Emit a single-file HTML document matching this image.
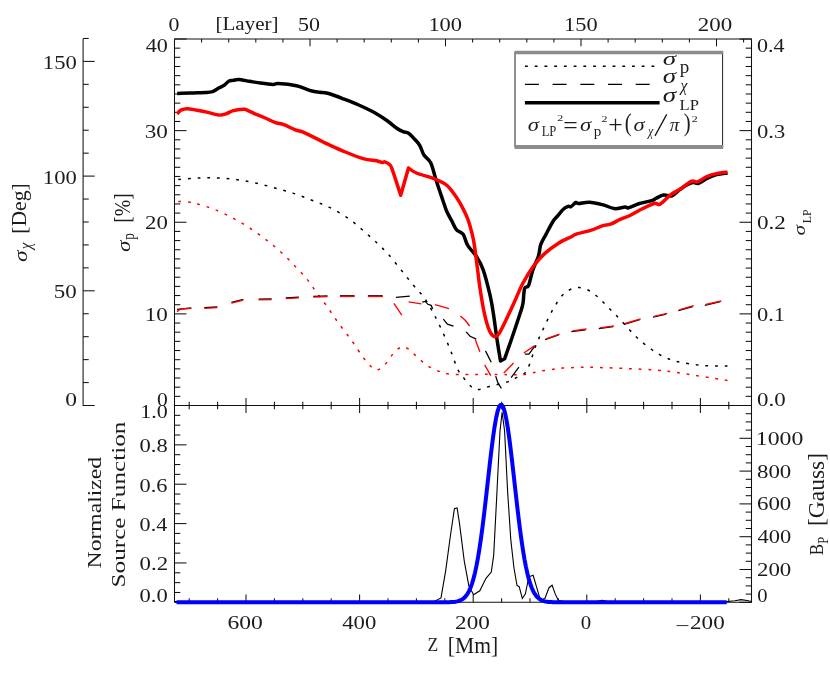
<!DOCTYPE html>
<html><head><meta charset="utf-8"><title>plot</title>
<style>
html,body{margin:0;padding:0;background:#fff;}
body{width:830px;height:677px;overflow:hidden;font-family:"Liberation Serif",serif;}
svg{display:block;will-change:transform;}
text{font-family:"Liberation Serif",serif;fill:#1c1c1c;}
</style></head><body>
<svg width="830" height="677" viewBox="0 0 830 677">
<rect x="0" y="0" width="830" height="677" fill="#ffffff"/>
<line x1="174.50" y1="39.00" x2="174.50" y2="602.30" stroke="#111" stroke-width="1.05" fill="none"/>
<line x1="751.50" y1="39.00" x2="751.50" y2="602.30" stroke="#111" stroke-width="1.05" fill="none"/>
<line x1="174.00" y1="39.00" x2="752.00" y2="39.00" stroke="#111" stroke-width="1.05" fill="none"/>
<line x1="174.00" y1="405.50" x2="752.00" y2="405.50" stroke="#111" stroke-width="1.05" fill="none"/>
<line x1="174.50" y1="602.30" x2="752.00" y2="602.30" stroke="#111" stroke-width="1.05" fill="none"/>
<line x1="83.10" y1="38.70" x2="83.10" y2="406.00" stroke="#111" stroke-width="1.05" fill="none"/>
<line x1="83.10" y1="405.50" x2="94.70" y2="405.50" stroke="#111" stroke-width="1.05" fill="none"/>
<line x1="83.10" y1="382.56" x2="88.70" y2="382.56" stroke="#111" stroke-width="1.05" fill="none"/>
<line x1="83.10" y1="359.62" x2="88.70" y2="359.62" stroke="#111" stroke-width="1.05" fill="none"/>
<line x1="83.10" y1="336.68" x2="88.70" y2="336.68" stroke="#111" stroke-width="1.05" fill="none"/>
<line x1="83.10" y1="313.74" x2="88.70" y2="313.74" stroke="#111" stroke-width="1.05" fill="none"/>
<line x1="83.10" y1="290.80" x2="94.70" y2="290.80" stroke="#111" stroke-width="1.05" fill="none"/>
<line x1="83.10" y1="267.86" x2="88.70" y2="267.86" stroke="#111" stroke-width="1.05" fill="none"/>
<line x1="83.10" y1="244.92" x2="88.70" y2="244.92" stroke="#111" stroke-width="1.05" fill="none"/>
<line x1="83.10" y1="221.98" x2="88.70" y2="221.98" stroke="#111" stroke-width="1.05" fill="none"/>
<line x1="83.10" y1="199.04" x2="88.70" y2="199.04" stroke="#111" stroke-width="1.05" fill="none"/>
<line x1="83.10" y1="176.10" x2="94.70" y2="176.10" stroke="#111" stroke-width="1.05" fill="none"/>
<line x1="83.10" y1="153.16" x2="88.70" y2="153.16" stroke="#111" stroke-width="1.05" fill="none"/>
<line x1="83.10" y1="130.22" x2="88.70" y2="130.22" stroke="#111" stroke-width="1.05" fill="none"/>
<line x1="83.10" y1="107.28" x2="88.70" y2="107.28" stroke="#111" stroke-width="1.05" fill="none"/>
<line x1="83.10" y1="84.34" x2="88.70" y2="84.34" stroke="#111" stroke-width="1.05" fill="none"/>
<line x1="83.10" y1="61.40" x2="94.70" y2="61.40" stroke="#111" stroke-width="1.05" fill="none"/>
<line x1="83.10" y1="38.46" x2="88.70" y2="38.46" stroke="#111" stroke-width="1.05" fill="none"/>
<line x1="174.50" y1="405.50" x2="186.50" y2="405.50" stroke="#111" stroke-width="1.05" fill="none"/>
<line x1="751.50" y1="405.50" x2="739.50" y2="405.50" stroke="#111" stroke-width="1.05" fill="none"/>
<line x1="174.50" y1="396.34" x2="180.30" y2="396.34" stroke="#111" stroke-width="1.05" fill="none"/>
<line x1="751.50" y1="396.34" x2="745.70" y2="396.34" stroke="#111" stroke-width="1.05" fill="none"/>
<line x1="174.50" y1="387.18" x2="180.30" y2="387.18" stroke="#111" stroke-width="1.05" fill="none"/>
<line x1="751.50" y1="387.18" x2="745.70" y2="387.18" stroke="#111" stroke-width="1.05" fill="none"/>
<line x1="174.50" y1="378.01" x2="180.30" y2="378.01" stroke="#111" stroke-width="1.05" fill="none"/>
<line x1="751.50" y1="378.01" x2="745.70" y2="378.01" stroke="#111" stroke-width="1.05" fill="none"/>
<line x1="174.50" y1="368.85" x2="180.30" y2="368.85" stroke="#111" stroke-width="1.05" fill="none"/>
<line x1="751.50" y1="368.85" x2="745.70" y2="368.85" stroke="#111" stroke-width="1.05" fill="none"/>
<line x1="174.50" y1="359.69" x2="180.30" y2="359.69" stroke="#111" stroke-width="1.05" fill="none"/>
<line x1="751.50" y1="359.69" x2="745.70" y2="359.69" stroke="#111" stroke-width="1.05" fill="none"/>
<line x1="174.50" y1="350.52" x2="180.30" y2="350.52" stroke="#111" stroke-width="1.05" fill="none"/>
<line x1="751.50" y1="350.52" x2="745.70" y2="350.52" stroke="#111" stroke-width="1.05" fill="none"/>
<line x1="174.50" y1="341.36" x2="180.30" y2="341.36" stroke="#111" stroke-width="1.05" fill="none"/>
<line x1="751.50" y1="341.36" x2="745.70" y2="341.36" stroke="#111" stroke-width="1.05" fill="none"/>
<line x1="174.50" y1="332.20" x2="180.30" y2="332.20" stroke="#111" stroke-width="1.05" fill="none"/>
<line x1="751.50" y1="332.20" x2="745.70" y2="332.20" stroke="#111" stroke-width="1.05" fill="none"/>
<line x1="174.50" y1="323.04" x2="180.30" y2="323.04" stroke="#111" stroke-width="1.05" fill="none"/>
<line x1="751.50" y1="323.04" x2="745.70" y2="323.04" stroke="#111" stroke-width="1.05" fill="none"/>
<line x1="174.50" y1="313.88" x2="186.50" y2="313.88" stroke="#111" stroke-width="1.05" fill="none"/>
<line x1="751.50" y1="313.88" x2="739.50" y2="313.88" stroke="#111" stroke-width="1.05" fill="none"/>
<line x1="174.50" y1="304.71" x2="180.30" y2="304.71" stroke="#111" stroke-width="1.05" fill="none"/>
<line x1="751.50" y1="304.71" x2="745.70" y2="304.71" stroke="#111" stroke-width="1.05" fill="none"/>
<line x1="174.50" y1="295.55" x2="180.30" y2="295.55" stroke="#111" stroke-width="1.05" fill="none"/>
<line x1="751.50" y1="295.55" x2="745.70" y2="295.55" stroke="#111" stroke-width="1.05" fill="none"/>
<line x1="174.50" y1="286.39" x2="180.30" y2="286.39" stroke="#111" stroke-width="1.05" fill="none"/>
<line x1="751.50" y1="286.39" x2="745.70" y2="286.39" stroke="#111" stroke-width="1.05" fill="none"/>
<line x1="174.50" y1="277.23" x2="180.30" y2="277.23" stroke="#111" stroke-width="1.05" fill="none"/>
<line x1="751.50" y1="277.23" x2="745.70" y2="277.23" stroke="#111" stroke-width="1.05" fill="none"/>
<line x1="174.50" y1="268.06" x2="180.30" y2="268.06" stroke="#111" stroke-width="1.05" fill="none"/>
<line x1="751.50" y1="268.06" x2="745.70" y2="268.06" stroke="#111" stroke-width="1.05" fill="none"/>
<line x1="174.50" y1="258.90" x2="180.30" y2="258.90" stroke="#111" stroke-width="1.05" fill="none"/>
<line x1="751.50" y1="258.90" x2="745.70" y2="258.90" stroke="#111" stroke-width="1.05" fill="none"/>
<line x1="174.50" y1="249.74" x2="180.30" y2="249.74" stroke="#111" stroke-width="1.05" fill="none"/>
<line x1="751.50" y1="249.74" x2="745.70" y2="249.74" stroke="#111" stroke-width="1.05" fill="none"/>
<line x1="174.50" y1="240.57" x2="180.30" y2="240.57" stroke="#111" stroke-width="1.05" fill="none"/>
<line x1="751.50" y1="240.57" x2="745.70" y2="240.57" stroke="#111" stroke-width="1.05" fill="none"/>
<line x1="174.50" y1="231.41" x2="180.30" y2="231.41" stroke="#111" stroke-width="1.05" fill="none"/>
<line x1="751.50" y1="231.41" x2="745.70" y2="231.41" stroke="#111" stroke-width="1.05" fill="none"/>
<line x1="174.50" y1="222.25" x2="186.50" y2="222.25" stroke="#111" stroke-width="1.05" fill="none"/>
<line x1="751.50" y1="222.25" x2="739.50" y2="222.25" stroke="#111" stroke-width="1.05" fill="none"/>
<line x1="174.50" y1="213.09" x2="180.30" y2="213.09" stroke="#111" stroke-width="1.05" fill="none"/>
<line x1="751.50" y1="213.09" x2="745.70" y2="213.09" stroke="#111" stroke-width="1.05" fill="none"/>
<line x1="174.50" y1="203.93" x2="180.30" y2="203.93" stroke="#111" stroke-width="1.05" fill="none"/>
<line x1="751.50" y1="203.93" x2="745.70" y2="203.93" stroke="#111" stroke-width="1.05" fill="none"/>
<line x1="174.50" y1="194.76" x2="180.30" y2="194.76" stroke="#111" stroke-width="1.05" fill="none"/>
<line x1="751.50" y1="194.76" x2="745.70" y2="194.76" stroke="#111" stroke-width="1.05" fill="none"/>
<line x1="174.50" y1="185.60" x2="180.30" y2="185.60" stroke="#111" stroke-width="1.05" fill="none"/>
<line x1="751.50" y1="185.60" x2="745.70" y2="185.60" stroke="#111" stroke-width="1.05" fill="none"/>
<line x1="174.50" y1="176.44" x2="180.30" y2="176.44" stroke="#111" stroke-width="1.05" fill="none"/>
<line x1="751.50" y1="176.44" x2="745.70" y2="176.44" stroke="#111" stroke-width="1.05" fill="none"/>
<line x1="174.50" y1="167.28" x2="180.30" y2="167.28" stroke="#111" stroke-width="1.05" fill="none"/>
<line x1="751.50" y1="167.28" x2="745.70" y2="167.28" stroke="#111" stroke-width="1.05" fill="none"/>
<line x1="174.50" y1="158.11" x2="180.30" y2="158.11" stroke="#111" stroke-width="1.05" fill="none"/>
<line x1="751.50" y1="158.11" x2="745.70" y2="158.11" stroke="#111" stroke-width="1.05" fill="none"/>
<line x1="174.50" y1="148.95" x2="180.30" y2="148.95" stroke="#111" stroke-width="1.05" fill="none"/>
<line x1="751.50" y1="148.95" x2="745.70" y2="148.95" stroke="#111" stroke-width="1.05" fill="none"/>
<line x1="174.50" y1="139.79" x2="180.30" y2="139.79" stroke="#111" stroke-width="1.05" fill="none"/>
<line x1="751.50" y1="139.79" x2="745.70" y2="139.79" stroke="#111" stroke-width="1.05" fill="none"/>
<line x1="174.50" y1="130.62" x2="186.50" y2="130.62" stroke="#111" stroke-width="1.05" fill="none"/>
<line x1="751.50" y1="130.62" x2="739.50" y2="130.62" stroke="#111" stroke-width="1.05" fill="none"/>
<line x1="174.50" y1="121.46" x2="180.30" y2="121.46" stroke="#111" stroke-width="1.05" fill="none"/>
<line x1="751.50" y1="121.46" x2="745.70" y2="121.46" stroke="#111" stroke-width="1.05" fill="none"/>
<line x1="174.50" y1="112.30" x2="180.30" y2="112.30" stroke="#111" stroke-width="1.05" fill="none"/>
<line x1="751.50" y1="112.30" x2="745.70" y2="112.30" stroke="#111" stroke-width="1.05" fill="none"/>
<line x1="174.50" y1="103.14" x2="180.30" y2="103.14" stroke="#111" stroke-width="1.05" fill="none"/>
<line x1="751.50" y1="103.14" x2="745.70" y2="103.14" stroke="#111" stroke-width="1.05" fill="none"/>
<line x1="174.50" y1="93.98" x2="180.30" y2="93.98" stroke="#111" stroke-width="1.05" fill="none"/>
<line x1="751.50" y1="93.98" x2="745.70" y2="93.98" stroke="#111" stroke-width="1.05" fill="none"/>
<line x1="174.50" y1="84.81" x2="180.30" y2="84.81" stroke="#111" stroke-width="1.05" fill="none"/>
<line x1="751.50" y1="84.81" x2="745.70" y2="84.81" stroke="#111" stroke-width="1.05" fill="none"/>
<line x1="174.50" y1="75.65" x2="180.30" y2="75.65" stroke="#111" stroke-width="1.05" fill="none"/>
<line x1="751.50" y1="75.65" x2="745.70" y2="75.65" stroke="#111" stroke-width="1.05" fill="none"/>
<line x1="174.50" y1="66.49" x2="180.30" y2="66.49" stroke="#111" stroke-width="1.05" fill="none"/>
<line x1="751.50" y1="66.49" x2="745.70" y2="66.49" stroke="#111" stroke-width="1.05" fill="none"/>
<line x1="174.50" y1="57.32" x2="180.30" y2="57.32" stroke="#111" stroke-width="1.05" fill="none"/>
<line x1="751.50" y1="57.32" x2="745.70" y2="57.32" stroke="#111" stroke-width="1.05" fill="none"/>
<line x1="174.50" y1="48.16" x2="180.30" y2="48.16" stroke="#111" stroke-width="1.05" fill="none"/>
<line x1="751.50" y1="48.16" x2="745.70" y2="48.16" stroke="#111" stroke-width="1.05" fill="none"/>
<line x1="174.50" y1="39.00" x2="186.50" y2="39.00" stroke="#111" stroke-width="1.05" fill="none"/>
<line x1="751.50" y1="39.00" x2="739.50" y2="39.00" stroke="#111" stroke-width="1.05" fill="none"/>
<line x1="174.50" y1="39.00" x2="174.50" y2="46.30" stroke="#111" stroke-width="1.05" fill="none"/>
<line x1="201.60" y1="39.00" x2="201.60" y2="42.60" stroke="#111" stroke-width="1.05" fill="none"/>
<line x1="228.70" y1="39.00" x2="228.70" y2="42.60" stroke="#111" stroke-width="1.05" fill="none"/>
<line x1="255.80" y1="39.00" x2="255.80" y2="42.60" stroke="#111" stroke-width="1.05" fill="none"/>
<line x1="282.90" y1="39.00" x2="282.90" y2="42.60" stroke="#111" stroke-width="1.05" fill="none"/>
<line x1="310.00" y1="39.00" x2="310.00" y2="46.30" stroke="#111" stroke-width="1.05" fill="none"/>
<line x1="337.10" y1="39.00" x2="337.10" y2="42.60" stroke="#111" stroke-width="1.05" fill="none"/>
<line x1="364.20" y1="39.00" x2="364.20" y2="42.60" stroke="#111" stroke-width="1.05" fill="none"/>
<line x1="391.30" y1="39.00" x2="391.30" y2="42.60" stroke="#111" stroke-width="1.05" fill="none"/>
<line x1="418.40" y1="39.00" x2="418.40" y2="42.60" stroke="#111" stroke-width="1.05" fill="none"/>
<line x1="445.50" y1="39.00" x2="445.50" y2="46.30" stroke="#111" stroke-width="1.05" fill="none"/>
<line x1="472.60" y1="39.00" x2="472.60" y2="42.60" stroke="#111" stroke-width="1.05" fill="none"/>
<line x1="499.70" y1="39.00" x2="499.70" y2="42.60" stroke="#111" stroke-width="1.05" fill="none"/>
<line x1="526.80" y1="39.00" x2="526.80" y2="42.60" stroke="#111" stroke-width="1.05" fill="none"/>
<line x1="553.90" y1="39.00" x2="553.90" y2="42.60" stroke="#111" stroke-width="1.05" fill="none"/>
<line x1="581.00" y1="39.00" x2="581.00" y2="46.30" stroke="#111" stroke-width="1.05" fill="none"/>
<line x1="608.10" y1="39.00" x2="608.10" y2="42.60" stroke="#111" stroke-width="1.05" fill="none"/>
<line x1="635.20" y1="39.00" x2="635.20" y2="42.60" stroke="#111" stroke-width="1.05" fill="none"/>
<line x1="662.30" y1="39.00" x2="662.30" y2="42.60" stroke="#111" stroke-width="1.05" fill="none"/>
<line x1="689.40" y1="39.00" x2="689.40" y2="42.60" stroke="#111" stroke-width="1.05" fill="none"/>
<line x1="716.50" y1="39.00" x2="716.50" y2="46.30" stroke="#111" stroke-width="1.05" fill="none"/>
<line x1="743.60" y1="39.00" x2="743.60" y2="42.60" stroke="#111" stroke-width="1.05" fill="none"/>
<line x1="189.20" y1="401.70" x2="189.20" y2="409.20" stroke="#111" stroke-width="1.05" fill="none"/>
<line x1="189.20" y1="602.30" x2="189.20" y2="598.30" stroke="#111" stroke-width="1.05" fill="none"/>
<line x1="217.60" y1="401.70" x2="217.60" y2="409.20" stroke="#111" stroke-width="1.05" fill="none"/>
<line x1="217.60" y1="602.30" x2="217.60" y2="598.30" stroke="#111" stroke-width="1.05" fill="none"/>
<line x1="246.00" y1="397.90" x2="246.00" y2="413.00" stroke="#111" stroke-width="1.05" fill="none"/>
<line x1="246.00" y1="602.30" x2="246.00" y2="594.50" stroke="#111" stroke-width="1.05" fill="none"/>
<line x1="274.40" y1="401.70" x2="274.40" y2="409.20" stroke="#111" stroke-width="1.05" fill="none"/>
<line x1="274.40" y1="602.30" x2="274.40" y2="598.30" stroke="#111" stroke-width="1.05" fill="none"/>
<line x1="302.80" y1="401.70" x2="302.80" y2="409.20" stroke="#111" stroke-width="1.05" fill="none"/>
<line x1="302.80" y1="602.30" x2="302.80" y2="598.30" stroke="#111" stroke-width="1.05" fill="none"/>
<line x1="331.20" y1="401.70" x2="331.20" y2="409.20" stroke="#111" stroke-width="1.05" fill="none"/>
<line x1="331.20" y1="602.30" x2="331.20" y2="598.30" stroke="#111" stroke-width="1.05" fill="none"/>
<line x1="359.60" y1="397.90" x2="359.60" y2="413.00" stroke="#111" stroke-width="1.05" fill="none"/>
<line x1="359.60" y1="602.30" x2="359.60" y2="594.50" stroke="#111" stroke-width="1.05" fill="none"/>
<line x1="388.00" y1="401.70" x2="388.00" y2="409.20" stroke="#111" stroke-width="1.05" fill="none"/>
<line x1="388.00" y1="602.30" x2="388.00" y2="598.30" stroke="#111" stroke-width="1.05" fill="none"/>
<line x1="416.40" y1="401.70" x2="416.40" y2="409.20" stroke="#111" stroke-width="1.05" fill="none"/>
<line x1="416.40" y1="602.30" x2="416.40" y2="598.30" stroke="#111" stroke-width="1.05" fill="none"/>
<line x1="444.80" y1="401.70" x2="444.80" y2="409.20" stroke="#111" stroke-width="1.05" fill="none"/>
<line x1="444.80" y1="602.30" x2="444.80" y2="598.30" stroke="#111" stroke-width="1.05" fill="none"/>
<line x1="473.20" y1="397.90" x2="473.20" y2="413.00" stroke="#111" stroke-width="1.05" fill="none"/>
<line x1="473.20" y1="602.30" x2="473.20" y2="594.50" stroke="#111" stroke-width="1.05" fill="none"/>
<line x1="501.60" y1="401.70" x2="501.60" y2="409.20" stroke="#111" stroke-width="1.05" fill="none"/>
<line x1="501.60" y1="602.30" x2="501.60" y2="598.30" stroke="#111" stroke-width="1.05" fill="none"/>
<line x1="530.00" y1="401.70" x2="530.00" y2="409.20" stroke="#111" stroke-width="1.05" fill="none"/>
<line x1="530.00" y1="602.30" x2="530.00" y2="598.30" stroke="#111" stroke-width="1.05" fill="none"/>
<line x1="558.40" y1="401.70" x2="558.40" y2="409.20" stroke="#111" stroke-width="1.05" fill="none"/>
<line x1="558.40" y1="602.30" x2="558.40" y2="598.30" stroke="#111" stroke-width="1.05" fill="none"/>
<line x1="586.80" y1="397.90" x2="586.80" y2="413.00" stroke="#111" stroke-width="1.05" fill="none"/>
<line x1="586.80" y1="602.30" x2="586.80" y2="594.50" stroke="#111" stroke-width="1.05" fill="none"/>
<line x1="615.20" y1="401.70" x2="615.20" y2="409.20" stroke="#111" stroke-width="1.05" fill="none"/>
<line x1="615.20" y1="602.30" x2="615.20" y2="598.30" stroke="#111" stroke-width="1.05" fill="none"/>
<line x1="643.60" y1="401.70" x2="643.60" y2="409.20" stroke="#111" stroke-width="1.05" fill="none"/>
<line x1="643.60" y1="602.30" x2="643.60" y2="598.30" stroke="#111" stroke-width="1.05" fill="none"/>
<line x1="672.00" y1="401.70" x2="672.00" y2="409.20" stroke="#111" stroke-width="1.05" fill="none"/>
<line x1="672.00" y1="602.30" x2="672.00" y2="598.30" stroke="#111" stroke-width="1.05" fill="none"/>
<line x1="700.40" y1="397.90" x2="700.40" y2="413.00" stroke="#111" stroke-width="1.05" fill="none"/>
<line x1="700.40" y1="602.30" x2="700.40" y2="594.50" stroke="#111" stroke-width="1.05" fill="none"/>
<line x1="728.80" y1="401.70" x2="728.80" y2="409.20" stroke="#111" stroke-width="1.05" fill="none"/>
<line x1="728.80" y1="602.30" x2="728.80" y2="598.30" stroke="#111" stroke-width="1.05" fill="none"/>
<line x1="174.50" y1="602.30" x2="186.50" y2="602.30" stroke="#111" stroke-width="1.05" fill="none"/>
<line x1="174.50" y1="592.46" x2="180.30" y2="592.46" stroke="#111" stroke-width="1.05" fill="none"/>
<line x1="174.50" y1="582.62" x2="180.30" y2="582.62" stroke="#111" stroke-width="1.05" fill="none"/>
<line x1="174.50" y1="572.78" x2="180.30" y2="572.78" stroke="#111" stroke-width="1.05" fill="none"/>
<line x1="174.50" y1="562.94" x2="186.50" y2="562.94" stroke="#111" stroke-width="1.05" fill="none"/>
<line x1="174.50" y1="553.10" x2="180.30" y2="553.10" stroke="#111" stroke-width="1.05" fill="none"/>
<line x1="174.50" y1="543.26" x2="180.30" y2="543.26" stroke="#111" stroke-width="1.05" fill="none"/>
<line x1="174.50" y1="533.42" x2="180.30" y2="533.42" stroke="#111" stroke-width="1.05" fill="none"/>
<line x1="174.50" y1="523.58" x2="186.50" y2="523.58" stroke="#111" stroke-width="1.05" fill="none"/>
<line x1="174.50" y1="513.74" x2="180.30" y2="513.74" stroke="#111" stroke-width="1.05" fill="none"/>
<line x1="174.50" y1="503.90" x2="180.30" y2="503.90" stroke="#111" stroke-width="1.05" fill="none"/>
<line x1="174.50" y1="494.06" x2="180.30" y2="494.06" stroke="#111" stroke-width="1.05" fill="none"/>
<line x1="174.50" y1="484.22" x2="186.50" y2="484.22" stroke="#111" stroke-width="1.05" fill="none"/>
<line x1="174.50" y1="474.38" x2="180.30" y2="474.38" stroke="#111" stroke-width="1.05" fill="none"/>
<line x1="174.50" y1="464.54" x2="180.30" y2="464.54" stroke="#111" stroke-width="1.05" fill="none"/>
<line x1="174.50" y1="454.70" x2="180.30" y2="454.70" stroke="#111" stroke-width="1.05" fill="none"/>
<line x1="174.50" y1="444.86" x2="186.50" y2="444.86" stroke="#111" stroke-width="1.05" fill="none"/>
<line x1="174.50" y1="435.02" x2="180.30" y2="435.02" stroke="#111" stroke-width="1.05" fill="none"/>
<line x1="174.50" y1="425.18" x2="180.30" y2="425.18" stroke="#111" stroke-width="1.05" fill="none"/>
<line x1="174.50" y1="415.34" x2="180.30" y2="415.34" stroke="#111" stroke-width="1.05" fill="none"/>
<line x1="751.50" y1="602.30" x2="739.50" y2="602.30" stroke="#111" stroke-width="1.05" fill="none"/>
<line x1="751.50" y1="594.10" x2="745.70" y2="594.10" stroke="#111" stroke-width="1.05" fill="none"/>
<line x1="751.50" y1="585.90" x2="745.70" y2="585.90" stroke="#111" stroke-width="1.05" fill="none"/>
<line x1="751.50" y1="577.70" x2="745.70" y2="577.70" stroke="#111" stroke-width="1.05" fill="none"/>
<line x1="751.50" y1="569.50" x2="739.50" y2="569.50" stroke="#111" stroke-width="1.05" fill="none"/>
<line x1="751.50" y1="561.30" x2="745.70" y2="561.30" stroke="#111" stroke-width="1.05" fill="none"/>
<line x1="751.50" y1="553.10" x2="745.70" y2="553.10" stroke="#111" stroke-width="1.05" fill="none"/>
<line x1="751.50" y1="544.90" x2="745.70" y2="544.90" stroke="#111" stroke-width="1.05" fill="none"/>
<line x1="751.50" y1="536.70" x2="739.50" y2="536.70" stroke="#111" stroke-width="1.05" fill="none"/>
<line x1="751.50" y1="528.50" x2="745.70" y2="528.50" stroke="#111" stroke-width="1.05" fill="none"/>
<line x1="751.50" y1="520.30" x2="745.70" y2="520.30" stroke="#111" stroke-width="1.05" fill="none"/>
<line x1="751.50" y1="512.10" x2="745.70" y2="512.10" stroke="#111" stroke-width="1.05" fill="none"/>
<line x1="751.50" y1="503.90" x2="739.50" y2="503.90" stroke="#111" stroke-width="1.05" fill="none"/>
<line x1="751.50" y1="495.70" x2="745.70" y2="495.70" stroke="#111" stroke-width="1.05" fill="none"/>
<line x1="751.50" y1="487.50" x2="745.70" y2="487.50" stroke="#111" stroke-width="1.05" fill="none"/>
<line x1="751.50" y1="479.30" x2="745.70" y2="479.30" stroke="#111" stroke-width="1.05" fill="none"/>
<line x1="751.50" y1="471.10" x2="739.50" y2="471.10" stroke="#111" stroke-width="1.05" fill="none"/>
<line x1="751.50" y1="462.90" x2="745.70" y2="462.90" stroke="#111" stroke-width="1.05" fill="none"/>
<line x1="751.50" y1="454.70" x2="745.70" y2="454.70" stroke="#111" stroke-width="1.05" fill="none"/>
<line x1="751.50" y1="446.50" x2="745.70" y2="446.50" stroke="#111" stroke-width="1.05" fill="none"/>
<line x1="751.50" y1="438.30" x2="739.50" y2="438.30" stroke="#111" stroke-width="1.05" fill="none"/>
<line x1="751.50" y1="430.10" x2="745.70" y2="430.10" stroke="#111" stroke-width="1.05" fill="none"/>
<line x1="751.50" y1="421.90" x2="745.70" y2="421.90" stroke="#111" stroke-width="1.05" fill="none"/>
<line x1="751.50" y1="413.70" x2="745.70" y2="413.70" stroke="#111" stroke-width="1.05" fill="none"/>
<path d="M178.3,179.4C181.7,179.2 191.9,178.2 198.4,178.0C204.9,177.8 211.0,177.7 217.3,178.0C223.6,178.3 229.9,178.8 236.2,179.6C242.5,180.4 248.8,181.6 255.1,182.9C261.4,184.2 267.7,186.0 274.0,187.7C280.3,189.4 286.6,191.0 292.9,193.1C299.2,195.2 305.7,197.8 311.8,200.2C317.9,202.6 323.6,204.5 329.5,207.4C335.4,210.3 341.8,214.0 347.2,217.7C352.6,221.4 357.1,225.3 362.0,229.5C366.9,233.7 372.4,238.6 376.8,242.8C381.2,247.0 384.4,249.9 388.6,254.6C392.8,259.3 397.6,265.6 401.8,270.8C406.0,276.0 410.0,281.2 413.7,285.6C417.4,290.0 420.8,293.0 424.0,297.4C427.2,301.8 429.9,306.8 432.8,312.2C435.8,317.6 438.7,323.5 441.7,329.9C444.7,336.3 447.9,343.9 450.6,350.5C453.3,357.1 455.6,365.0 457.9,369.7C460.2,374.4 461.9,375.8 464.3,378.7C466.7,381.6 469.6,385.5 472.0,387.3C474.4,389.1 475.9,389.6 478.8,389.5C481.7,389.4 484.8,387.6 489.4,386.4C494.0,385.2 502.2,383.6 506.7,382.1C511.2,380.7 513.4,379.2 516.4,377.7C519.4,376.2 522.8,375.3 525.0,372.9C527.2,370.5 528.1,367.8 529.9,363.3C531.7,358.8 533.5,351.7 535.7,345.9C538.0,340.1 540.5,334.7 543.4,328.6C546.3,322.5 549.8,314.9 553.0,309.3C556.2,303.8 559.4,298.6 562.4,295.3C565.4,292.0 568.0,290.6 570.8,289.3C573.6,288.0 576.3,287.4 579.3,287.6C582.3,287.8 585.9,289.0 588.9,290.5C591.9,292.0 594.7,294.3 597.3,296.5C599.9,298.7 602.2,301.3 604.6,303.7C607.0,306.1 609.4,308.6 611.8,311.0C614.2,313.4 616.0,315.0 619.0,318.2C622.0,321.4 626.5,326.6 629.9,330.2C633.3,333.8 635.9,336.7 639.5,339.9C643.1,343.1 648.0,346.9 651.6,349.5C655.2,352.1 658.0,353.8 661.2,355.5C664.4,357.2 667.6,358.5 670.8,359.6C674.0,360.7 676.5,361.5 680.5,362.3C684.5,363.1 690.1,364.1 694.9,364.7C699.7,365.3 704.0,365.7 709.4,365.9C714.8,366.1 724.5,365.9 727.5,365.9" fill="none" stroke="#000" stroke-width="1.5" stroke-dasharray="2.8 6.93" pathLength="732.55"/>
<path d="M178.3,201.4C180.1,201.5 185.6,201.6 188.9,202.1C192.2,202.6 194.1,202.9 198.4,204.2C202.7,205.4 209.0,207.2 214.9,209.6C220.8,212.0 227.9,215.4 233.8,218.6C239.7,221.8 244.9,224.9 250.4,228.5C255.9,232.1 261.8,236.5 266.9,240.4C272.0,244.3 276.4,247.9 281.1,252.2C285.8,256.5 291.0,261.9 295.3,266.4C299.6,270.9 303.6,275.1 307.1,279.4C310.6,283.7 313.2,288.0 316.5,292.4C319.8,296.8 323.0,300.7 326.6,305.8C330.2,310.9 334.2,317.2 338.4,323.0C342.6,328.8 347.5,334.9 351.7,340.7C355.9,346.5 360.1,353.4 363.5,357.9C366.9,362.4 369.9,365.7 372.3,367.7C374.8,369.7 376.0,370.3 378.2,369.7C380.4,369.1 382.9,366.8 385.6,363.8C388.3,360.9 391.8,354.8 394.5,352.0C397.2,349.2 399.6,347.6 401.8,347.0C404.0,346.4 405.2,346.9 407.7,348.5C410.2,350.1 413.4,353.7 416.6,356.5C419.8,359.3 423.2,362.9 426.9,365.3C430.6,367.8 434.8,369.7 438.7,371.2C442.6,372.7 445.7,373.7 450.6,374.2C455.5,374.7 460.4,374.4 468.2,374.4C475.9,374.4 489.1,374.3 497.1,374.4C505.1,374.5 511.2,374.9 516.4,374.8C521.5,374.7 524.1,374.5 528.0,373.9C531.9,373.3 535.0,372.1 539.5,371.3C544.0,370.5 551.2,369.5 555.0,369.0C558.8,368.5 557.5,368.4 562.4,368.1C567.2,367.8 576.5,367.4 584.1,367.3C591.7,367.2 600.2,367.6 608.2,367.8C616.2,368.1 624.3,368.4 632.3,368.8C640.3,369.2 649.2,369.4 656.4,370.0C663.6,370.6 669.3,371.5 675.7,372.4C682.1,373.3 688.5,374.3 694.9,375.3C701.3,376.3 708.8,377.5 714.2,378.4C719.6,379.2 725.3,380.1 727.5,380.4" fill="none" stroke="#ff0000" stroke-width="1.5" stroke-dasharray="2.8 6.93" pathLength="644.98"/>
<path d="M177.1,309.3L191.3,308.0" fill="none" stroke="#000" stroke-width="1.3"/>
<path d="M204.3,307.7L217.3,307.0" fill="none" stroke="#000" stroke-width="1.3"/>
<path d="M231.5,302.5L243.3,299.3" fill="none" stroke="#000" stroke-width="1.3"/>
<path d="M258.6,299.2L271.6,299.0" fill="none" stroke="#000" stroke-width="1.3"/>
<path d="M285.8,298.0L298.8,297.1" fill="none" stroke="#000" stroke-width="1.3"/>
<path d="M313.3,296.4L327.5,295.9" fill="none" stroke="#000" stroke-width="1.3"/>
<path d="M339.9,295.8L354.6,295.8" fill="none" stroke="#000" stroke-width="1.3"/>
<path d="M367.9,295.8L382.7,295.8" fill="none" stroke="#000" stroke-width="1.3"/>
<path d="M395.9,297.4L409.8,296.2" fill="none" stroke="#000" stroke-width="1.3"/>
<path d="M422.2,302.2L425.4,301.4L427.9,304.3L431.1,305.4L432.7,308.7" fill="none" stroke="#000" stroke-width="1.3"/>
<path d="M443.3,319.2L447.4,324.1L453.5,326.1" fill="none" stroke="#000" stroke-width="1.3"/>
<path d="M466.1,331.9L470.1,336.3L476.3,339.1" fill="none" stroke="#000" stroke-width="1.3"/>
<path d="M485.5,350.9L491.2,362.3" fill="none" stroke="#000" stroke-width="1.3"/>
<path d="M495.7,376.1L498.1,383.4L501.4,388.3" fill="none" stroke="#000" stroke-width="1.3"/>
<path d="M511.1,377.7L518.9,367.2" fill="none" stroke="#000" stroke-width="1.3"/>
<path d="M524.9,354.2L529.0,354.2L534.7,346.1" fill="none" stroke="#000" stroke-width="1.3"/>
<path d="M545.1,339.7L558.6,334.9" fill="none" stroke="#000" stroke-width="1.3"/>
<path d="M571.4,331.7L585.5,329.8" fill="none" stroke="#000" stroke-width="1.3"/>
<path d="M598.8,328.6L613.2,326.7" fill="none" stroke="#000" stroke-width="1.3"/>
<path d="M624.1,324.3L639.7,319.7" fill="none" stroke="#000" stroke-width="1.3"/>
<path d="M653.0,317.1L666.2,314.2" fill="none" stroke="#000" stroke-width="1.3"/>
<path d="M678.3,310.6L692.7,306.5" fill="none" stroke="#000" stroke-width="1.3"/>
<path d="M704.8,305.3L720.4,301.6" fill="none" stroke="#000" stroke-width="1.3"/>
<path d="M177.1,311.6L180.4,309.0L191.3,308.4" fill="none" stroke="#ff0000" stroke-width="1.35"/>
<path d="M204.3,308.4L217.3,307.7" fill="none" stroke="#ff0000" stroke-width="1.35"/>
<path d="M231.5,303.2L243.3,300.0" fill="none" stroke="#ff0000" stroke-width="1.35"/>
<path d="M258.6,299.9L271.6,299.7" fill="none" stroke="#ff0000" stroke-width="1.35"/>
<path d="M285.8,298.7L298.8,297.8" fill="none" stroke="#ff0000" stroke-width="1.35"/>
<path d="M313.3,297.1L327.5,296.6" fill="none" stroke="#ff0000" stroke-width="1.35"/>
<path d="M339.9,296.5L354.6,296.5" fill="none" stroke="#ff0000" stroke-width="1.35"/>
<path d="M367.9,296.5L382.7,296.5" fill="none" stroke="#ff0000" stroke-width="1.35"/>
<path d="M393.9,303.3L401.8,315.1" fill="none" stroke="#ff0000" stroke-width="1.35"/>
<path d="M408.6,301.8L421.4,303.8" fill="none" stroke="#ff0000" stroke-width="1.35"/>
<path d="M435.0,304.7L449.0,308.6" fill="none" stroke="#ff0000" stroke-width="1.35"/>
<path d="M460.4,316.0L465.5,320.5L469.6,326.0" fill="none" stroke="#ff0000" stroke-width="1.35"/>
<path d="M475.2,339.6L479.9,351.7" fill="none" stroke="#ff0000" stroke-width="1.35"/>
<path d="M484.7,364.8L490.8,375.6" fill="none" stroke="#ff0000" stroke-width="1.35"/>
<path d="M503.8,372.9L513.6,363.1" fill="none" stroke="#ff0000" stroke-width="1.35"/>
<path d="M523.8,353.0L534.7,345.6" fill="none" stroke="#ff0000" stroke-width="1.35"/>
<path d="M546.1,338.9L559.6,334.1" fill="none" stroke="#ff0000" stroke-width="1.35"/>
<path d="M572.4,330.9L586.5,329.0" fill="none" stroke="#ff0000" stroke-width="1.35"/>
<path d="M599.8,327.8L614.2,325.9" fill="none" stroke="#ff0000" stroke-width="1.35"/>
<path d="M625.1,323.5L640.7,318.9" fill="none" stroke="#ff0000" stroke-width="1.35"/>
<path d="M654.0,316.3L667.2,313.4" fill="none" stroke="#ff0000" stroke-width="1.35"/>
<path d="M679.3,309.8L693.7,305.7" fill="none" stroke="#ff0000" stroke-width="1.35"/>
<path d="M705.8,304.5L721.4,300.8" fill="none" stroke="#ff0000" stroke-width="1.35"/>
<path d="M177.2,93.4C179.3,93.3 185.2,93.2 190.0,93.0C194.8,92.8 202.3,92.7 206.1,92.5C209.8,92.3 210.4,92.3 212.5,91.6C214.6,90.8 216.9,89.0 218.8,88.0C220.8,87.0 222.5,86.4 224.2,85.3C225.8,84.2 227.2,82.1 228.7,81.3C230.2,80.5 231.6,80.7 233.3,80.4C235.0,80.1 236.0,79.3 238.7,79.5C241.4,79.7 245.9,80.7 249.5,81.3C253.1,81.9 256.5,82.6 260.4,83.1C264.3,83.6 270.0,84.3 273.0,84.4C276.0,84.5 274.5,83.3 278.4,83.5C282.3,83.7 291.1,84.6 296.5,85.8C301.9,87.0 307.1,89.6 311.0,90.7C314.9,91.8 317.2,91.8 320.0,92.2C322.8,92.6 323.8,92.2 327.7,93.3C331.6,94.4 338.0,96.8 343.2,98.8C348.4,100.8 353.5,102.7 358.7,105.0C363.9,107.3 369.5,109.8 374.3,112.5C379.1,115.2 383.9,118.4 387.6,121.0C391.3,123.6 393.8,126.2 396.4,128.0C399.0,129.8 401.0,130.7 403.0,131.6C405.0,132.5 406.8,132.0 408.6,133.2C410.5,134.4 412.2,136.7 414.1,138.7C416.0,140.7 418.0,142.5 419.7,145.3C421.4,148.1 422.2,152.4 424.1,155.3C426.0,158.2 428.8,158.8 430.8,163.0C432.8,167.2 434.3,174.5 436.3,180.8C438.3,187.1 441.3,195.7 443.0,200.7C444.7,205.7 445.1,207.6 446.6,211.0C448.1,214.4 450.1,217.8 451.8,221.0C453.5,224.2 454.7,227.7 456.6,229.9C458.5,232.1 461.4,231.7 463.2,234.3C465.0,236.9 465.5,241.7 467.7,245.4C469.9,249.1 473.9,252.4 476.5,256.5C479.1,260.6 481.0,263.5 483.2,269.8C485.4,276.1 488.1,286.9 489.8,294.1C491.5,301.3 492.1,305.4 493.3,313.1C494.5,320.8 495.9,332.1 497.1,340.1C498.3,348.1 500.5,361.0 500.5,361.0C500.5,361.0 504.6,358.8 504.6,358.8C504.6,358.8 509.9,343.9 512.5,336.3C515.1,328.7 518.5,318.6 520.2,313.1C522.0,307.6 522.3,307.3 523.0,303.2C523.7,299.1 523.7,291.4 524.6,288.5C525.5,285.6 527.3,288.5 528.6,285.5C529.9,282.5 531.0,275.5 532.6,270.6C534.2,265.7 537.0,260.5 538.4,256.2C539.8,251.9 539.4,248.4 540.7,244.7C542.0,241.0 544.1,237.9 546.1,234.1C548.1,230.3 550.9,224.7 552.8,221.7C554.7,218.7 555.9,218.0 557.6,215.9C559.4,213.8 561.5,210.8 563.3,209.2C565.0,207.6 566.8,206.7 568.1,206.3C569.4,205.9 569.7,207.3 571.0,206.7C572.3,206.1 574.5,203.0 575.8,202.5C577.1,202.0 576.5,203.6 578.7,203.6C581.0,203.6 585.2,202.1 589.3,202.3C593.4,202.5 599.2,203.9 603.4,204.9C607.5,205.9 610.6,208.2 614.2,208.6C617.8,209.0 622.6,207.2 625.0,207.1C627.4,207.0 626.3,208.4 628.7,207.8C631.1,207.2 635.7,204.7 639.5,203.5C643.3,202.3 648.8,201.5 651.6,200.6C654.4,199.7 654.4,199.1 656.4,198.2C658.4,197.3 661.0,195.4 663.6,195.0C666.2,194.6 669.6,196.5 672.0,195.8C674.4,195.1 675.8,192.7 678.0,191.0C680.2,189.3 682.9,187.1 685.3,185.7C687.7,184.3 690.3,182.9 692.5,182.5C694.7,182.1 696.2,184.0 698.6,183.3C701.0,182.6 704.0,179.9 707.0,178.4C710.0,176.9 713.2,175.5 716.6,174.6C720.0,173.7 725.7,173.2 727.5,172.9" fill="none" stroke="#000" stroke-width="3.5" stroke-linejoin="round"/>
<path d="M177.2,113.9C177.7,113.4 178.9,111.4 180.0,110.6C181.1,109.8 182.3,109.5 183.6,109.2C184.9,108.9 185.8,108.6 188.0,108.8C190.2,109.0 193.7,109.6 197.0,110.2C200.3,110.8 204.4,111.6 208.0,112.4C211.6,113.2 215.8,114.8 218.8,115.1C221.8,115.3 223.6,114.7 226.0,113.9C228.4,113.2 230.4,111.4 233.3,110.6C236.2,109.8 241.1,109.3 243.2,109.2C245.3,109.1 244.0,108.9 246.0,109.7C248.0,110.5 252.0,112.6 255.0,113.9C258.0,115.2 260.7,116.1 264.0,117.5C267.3,118.9 271.5,121.2 274.8,122.4C278.1,123.6 280.6,123.5 283.9,124.7C287.2,125.9 291.7,128.4 294.7,129.6C297.7,130.8 299.3,130.6 302.0,131.7C304.7,132.8 308.0,134.4 311.0,135.9C314.0,137.4 317.2,139.0 320.0,140.4C322.8,141.8 323.5,142.3 327.7,144.2C331.9,146.1 339.5,149.6 345.4,152.0C351.3,154.4 358.0,157.1 363.2,158.6C368.4,160.1 373.4,160.2 376.5,160.8C379.6,161.5 380.6,162.3 382.0,162.5C383.4,162.7 383.6,161.6 384.8,161.9C386.1,162.2 388.3,163.4 389.5,164.6C390.7,165.8 390.1,163.7 392.0,168.8C393.9,173.9 400.7,195.3 400.7,195.3C400.7,195.3 408.5,168.0 408.5,168.0C408.5,168.0 412.5,171.3 416.4,173.0C420.3,174.7 427.1,176.1 431.9,177.9C436.7,179.8 441.9,181.9 445.2,184.1C448.5,186.2 449.3,187.7 451.8,190.8C454.3,194.0 457.4,198.3 460.0,203.0C462.6,207.7 465.5,212.9 467.7,218.8C469.9,224.8 471.7,231.7 473.2,238.7C474.7,245.7 475.4,252.8 476.5,260.9C477.6,269.0 478.6,278.8 479.9,287.5C481.2,296.2 482.7,305.9 484.3,313.1C485.9,320.3 487.7,326.6 489.4,330.5C491.1,334.4 492.8,336.2 494.4,336.6C496.0,337.1 497.2,336.2 499.2,333.2C501.2,330.2 504.1,323.9 506.6,318.7C509.1,313.5 511.7,307.9 514.4,302.0C517.1,296.1 519.7,289.1 523.0,283.0C526.3,276.9 530.4,270.3 534.1,265.3C537.8,260.3 541.1,256.8 545.2,253.1C549.3,249.4 554.1,246.0 558.5,243.2C562.9,240.4 568.9,238.0 571.8,236.5C574.7,235.0 572.5,235.4 575.7,234.3C579.0,233.2 586.9,231.6 591.3,230.2C595.7,228.8 599.0,226.9 602.2,225.9C605.4,224.9 607.6,225.3 610.6,224.2C613.6,223.1 617.0,220.8 620.2,219.4C623.4,218.0 626.7,217.0 629.9,215.5C633.1,214.0 635.5,212.2 639.5,210.2C643.5,208.2 650.6,204.5 654.0,203.5C657.4,202.5 657.2,205.7 660.0,204.2C662.8,202.7 667.4,197.1 670.8,194.6C674.2,192.1 677.1,191.2 680.5,189.0C683.9,186.8 688.5,182.5 691.3,181.3C694.1,180.1 694.7,182.6 697.3,181.8C699.9,181.0 703.8,177.9 707.0,176.5C710.2,175.1 713.2,174.3 716.6,173.6C720.0,172.9 725.7,172.4 727.5,172.2" fill="none" stroke="#ff0000" stroke-width="3.5" stroke-linejoin="round"/>
<path d="M175.0,601.6L434.8,601.2L441.0,597.9L445.7,570.6L450.3,536.5L454.4,508.6L457.1,507.9L459.6,524.1L464.3,561.3L468.9,586.1L473.6,594.8L479.8,590.8L486.0,578.3L491.3,572.1L493.7,555.1L496.9,493.0L500.0,431.0L502.1,412.4L504.6,431.0L507.7,493.0L510.8,539.6L513.9,567.5L517.0,585.5L519.2,586.7L522.3,598.5L525.4,593.9L528.8,576.8L533.1,575.3L537.2,589.2L540.3,600.0L544.9,598.5L549.0,587.7L552.1,585.2L555.2,593.9L558.3,600.5L565.0,601.5L596.0,601.5L602.3,600.3L608.0,601.5L727.0,601.5L735.0,600.8L741.0,599.6L747.0,600.5L751.5,601.5" fill="none" stroke="#000" stroke-width="1.1"/>
<path d="M176.5,602.3L430.0,602.3L431.5,602.3L433.0,602.3L434.5,602.3L436.0,602.3L437.5,602.3L439.0,602.3L440.5,602.3L442.0,602.3L443.5,602.3L445.0,602.3L446.5,602.3L448.0,602.2L449.5,602.2L451.0,602.1L452.5,602.0L454.0,601.9L455.5,601.7L457.0,601.4L458.5,601.0L460.0,600.5L461.5,599.8L463.0,598.8L464.5,597.6L466.0,595.9L467.5,593.8L469.0,591.1L470.5,587.7L472.0,583.6L473.5,578.6L475.0,572.7L476.5,565.7L478.0,557.6L479.5,548.4L481.0,538.1L482.5,526.9L484.0,514.8L485.5,502.0L487.0,488.7L488.5,475.3L490.0,462.1L491.5,449.4L493.0,437.7L494.5,427.3L496.0,418.5L497.5,411.7L499.0,407.1L500.5,404.9L502.0,405.1L503.5,407.8L505.0,412.9L506.5,420.1L508.0,429.2L509.5,439.9L511.0,451.9L512.5,464.7L514.0,478.0L515.5,491.4L517.0,504.6L518.5,517.3L520.0,529.2L521.5,540.3L523.0,550.3L524.5,559.3L526.0,567.1L527.5,573.9L529.0,579.7L530.5,584.5L532.0,588.5L533.5,591.7L535.0,594.2L536.5,596.3L538.0,597.8L539.5,599.0L541.0,600.0L542.5,600.6L544.0,601.1L545.5,601.5L547.0,601.7L548.5,601.9L550.0,602.0L551.5,602.1L553.0,602.2L554.5,602.2L556.0,602.3L557.5,602.3L559.0,602.3L560.5,602.3L562.0,602.3L563.5,602.3L565.0,602.3L566.5,602.3L568.0,602.3L569.5,602.3L571.0,602.3L572.5,602.3L574.0,602.3L726.7,602.3" fill="none" stroke="#0000ff" stroke-width="4.0" stroke-linejoin="round"/>
<rect x="515" y="52" width="207.7" height="95" fill="#fff" stroke="none"/>
<line x1="515.00" y1="52.00" x2="515.00" y2="147.00" stroke="#222" stroke-width="1"/>
<line x1="722.60" y1="52.00" x2="722.60" y2="147.00" stroke="#222" stroke-width="1"/>
<line x1="514.50" y1="52.50" x2="723.20" y2="52.50" stroke="#8c8c8c" stroke-width="3.6"/>
<line x1="514.50" y1="147.00" x2="723.20" y2="147.00" stroke="#8c8c8c" stroke-width="3.8"/>
<line x1="525.00" y1="66.20" x2="657.00" y2="66.20" stroke="#000" stroke-width="1.4" stroke-dasharray="2.8 6.93"/>
<line x1="524.90" y1="84.40" x2="657.00" y2="84.40" stroke="#000" stroke-width="1.4" stroke-dasharray="14 13.7"/>
<line x1="524.90" y1="102.80" x2="659.60" y2="102.80" stroke="#000" stroke-width="3.6"/>
<text transform="matrix(1.1742,0,0,1.0000,168.52,30.50)" font-size="18.6" >0</text>
<text transform="matrix(1.0793,0,0,0.9972,215.48,29.76)" font-size="19.5" >[Layer]</text>
<text transform="matrix(1.1824,0,0,1.0000,297.92,30.50)" font-size="18.6" >50</text>
<text transform="matrix(1.2078,0,0,1.0000,428.39,30.50)" font-size="18.6" >100</text>
<text transform="matrix(1.2039,0,0,1.0000,563.99,30.50)" font-size="18.6" >150</text>
<text transform="matrix(1.2340,0,0,1.0000,697.87,30.50)" font-size="18.6" >200</text>
<text transform="matrix(1.1887,0,0,1.0000,145.70,51.60)" font-size="18.6" >40</text>
<text transform="matrix(1.2471,0,0,1.0000,144.75,137.80)" font-size="18.6" >30</text>
<text transform="matrix(1.2290,0,0,1.0000,145.08,229.40)" font-size="18.6" >20</text>
<text transform="matrix(1.2431,0,0,1.0000,144.82,320.90)" font-size="18.6" >10</text>
<text transform="matrix(1.1613,0,0,1.0000,157.03,405.60)" font-size="18.6" >0</text>
<text transform="matrix(1.1855,0,0,1.0000,140.23,417.90)" font-size="18.6" >1.0</text>
<text transform="matrix(1.2138,0,0,1.0000,139.59,452.26)" font-size="18.6" >0.8</text>
<text transform="matrix(1.2000,0,0,1.0000,139.60,491.62)" font-size="18.6" >0.6</text>
<text transform="matrix(1.1865,0,0,1.0000,139.61,530.98)" font-size="18.6" >0.4</text>
<text transform="matrix(1.2279,0,0,1.0000,139.58,570.34)" font-size="18.6" >0.2</text>
<text transform="matrix(1.2138,0,0,1.0000,139.59,602.40)" font-size="18.6" >0.0</text>
<text transform="matrix(1.2157,0,0,1.0000,42.87,69.00)" font-size="18.6" >150</text>
<text transform="matrix(1.2157,0,0,1.0000,42.87,183.60)" font-size="18.6" >100</text>
<text transform="matrix(1.2353,0,0,1.0000,53.76,298.30)" font-size="18.6" >50</text>
<text transform="matrix(1.2645,0,0,1.0000,65.35,405.60)" font-size="18.6" >0</text>
<text transform="matrix(1.1865,0,0,1.0000,757.01,51.60)" font-size="18.6" >0.4</text>
<text transform="matrix(1.2138,0,0,1.0000,756.99,137.90)" font-size="18.6" >0.3</text>
<text transform="matrix(1.2419,0,0,1.0000,756.97,229.40)" font-size="18.6" >0.2</text>
<text transform="matrix(1.2047,0,0,1.0000,757.00,320.90)" font-size="18.6" >0.1</text>
<text transform="matrix(1.2322,0,0,1.0000,756.98,406.10)" font-size="18.6" >0.0</text>
<text transform="matrix(1.2777,0,0,1.0000,755.76,445.10)" font-size="18.6" >1000</text>
<text transform="matrix(1.2302,0,0,1.0000,756.98,477.60)" font-size="18.6" >800</text>
<text transform="matrix(1.2302,0,0,1.0000,756.98,510.00)" font-size="18.6" >600</text>
<text transform="matrix(1.2074,0,0,1.0000,757.60,543.30)" font-size="18.6" >400</text>
<text transform="matrix(1.2302,0,0,1.0000,756.98,576.30)" font-size="18.6" >200</text>
<text transform="matrix(1.1097,0,0,1.0000,757.27,602.30)" font-size="18.6" >0</text>
<text transform="matrix(1.2679,0,0,1.0000,227.55,629.00)" font-size="18.6" >600</text>
<text transform="matrix(1.2222,0,0,1.0000,342.19,629.00)" font-size="18.6" >400</text>
<text transform="matrix(1.2453,0,0,1.0000,455.07,629.00)" font-size="18.6" >200</text>
<text transform="matrix(1.1226,0,0,1.0000,580.76,629.00)" font-size="18.6" >0</text>
<text transform="matrix(1.3765,0,0,1.0000,675.32,631.52)" font-size="18.6" >−</text>
<text transform="matrix(1.2415,0,0,1.0000,690.07,629.00)" font-size="18.6" >200</text>
<text transform="matrix(0.9026,0,0,1.0000,427.50,651.40)" font-size="19.5" >Z</text>
<text transform="matrix(1.1082,0,0,1.2313,447.84,652.92)" font-size="19.5" >[Mm]</text>
<text transform="matrix(1.1234,0,0,0.8080,662.66,65.30)" font-size="24" font-style="italic">σ</text>
<text transform="matrix(1.1200,0,0,1.0522,679.82,73.42)" font-size="17" >p</text>
<text transform="matrix(1.1234,0,0,0.8480,662.66,83.49)" font-size="24" font-style="italic">σ</text>
<text transform="matrix(0.8718,0,0,0.9167,680.61,91.46)" font-size="18" font-style="italic">χ</text>
<text transform="matrix(1.1234,0,0,0.8400,662.66,102.19)" font-size="24" font-style="italic">σ</text>
<text transform="matrix(1.1429,0,0,1.0526,679.53,109.70)" font-size="14.5" >LP</text>
<text transform="matrix(1.0829,0,0,0.8636,527.79,130.68)" font-size="21" font-style="italic">σ</text>
<text transform="matrix(1.0980,0,0,1.2133,541.63,136.00)" font-size="11.5" >LP</text>
<text transform="matrix(1.3333,0,0,0.9120,556.93,120.70)" font-size="9.5" >2</text>
<text transform="matrix(1.2865,0,0,1.2000,563.21,132.90)" font-size="20" >=</text>
<text transform="matrix(1.0732,0,0,0.8636,580.00,130.68)" font-size="21" font-style="italic">σ</text>
<text transform="matrix(1.1652,0,0,1.0514,593.81,136.21)" font-size="13" >p</text>
<text transform="matrix(1.3333,0,0,0.9120,601.33,121.50)" font-size="9.5" >2</text>
<text transform="matrix(1.2865,0,0,1.3081,608.31,133.32)" font-size="20" >+</text>
<text transform="matrix(0.9000,0,0,1.0976,624.80,130.89)" font-size="23" >(</text>
<text transform="matrix(1.0732,0,0,0.9000,633.50,130.68)" font-size="21" font-style="italic">σ</text>
<text transform="matrix(0.8267,0,0,0.9684,648.03,136.19)" font-size="14.5" font-style="italic">χ</text>
<text transform="matrix(0.9561,0,0,0.9895,669.86,130.65)" font-size="20" font-style="italic">π</text>
<text transform="matrix(0.9000,0,0,1.0976,683.83,130.89)" font-size="23" >)</text>
<text transform="matrix(1.3333,0,0,0.9120,691.53,121.50)" font-size="9.5" >2</text>
<text transform="matrix(0,-1.1122,0.8727,0,26.78,261.93)" font-size="21" font-style="italic">σ</text>
<text transform="matrix(0,-1.0267,1.0947,0,30.82,249.17)" font-size="14.5" font-style="italic">χ</text>
<text transform="matrix(0,-1.0857,1.0833,0,25.90,233.83)" font-size="20" >[Deg]</text>
<text transform="matrix(0,-1.1024,0.8727,0,129.78,251.93)" font-size="21" font-style="italic">σ</text>
<text transform="matrix(0,-0.9833,1.1667,0,133.99,239.65)" font-size="13.5" >p</text>
<text transform="matrix(0,-0.9889,1.1758,0,130.27,222.78)" font-size="20" >[%]</text>
<text transform="matrix(0,-1.2121,1.0000,0,100.80,568.41)" font-size="19.5" >Normalized</text>
<text transform="matrix(0,-1.2923,1.0000,0,124.80,587.42)" font-size="19.5" >Source Function</text>
<text transform="matrix(0,-1.0300,0.8762,0,805.28,235.31)" font-size="20" font-style="italic">σ</text>
<text transform="matrix(0,-1.0275,1.1333,0,810.70,223.16)" font-size="11.5" >LP</text>
<text transform="matrix(0,-0.8783,0.9490,0,822.70,555.34)" font-size="19.5" >B</text>
<text transform="matrix(0,-1.0957,1.2267,0,827.50,543.67)" font-size="11.5" >P</text>
<text transform="matrix(0,-1.1747,1.1939,0,824.22,525.96)" font-size="20" >[Gauss]</text>
<line x1="655.0" y1="135.9" x2="666.7" y2="114.4" stroke="#111" stroke-width="1.25"/>

</svg>
</body></html>
